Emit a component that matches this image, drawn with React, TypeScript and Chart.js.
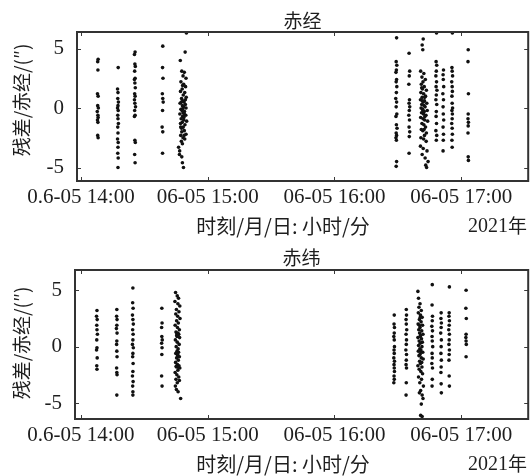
import React, { useEffect, useRef } from 'react';
import { Chart, registerables } from 'chart.js';

Chart.register(...registerables);

// x values: minutes after 06-05 14:00 (2021)
const xTickValues = [0, 60, 120, 180];
const xTickLabels = ['0.6-05 14:00', '06-05 15:00', '06-05 16:00', '06-05 17:00'];
const yTickValues = [-5, 0, 5];
const yTickLabels = ['-5', '0', '5'];
const panelTitles = ['赤经', '赤纬'];
const yAxisTitle = '残差/赤经/(″)';
const xAxisTitle = '时刻/月/日: 小时/分';
const yearLabel = '2021年';

type P = [number, number];

// ---- 赤经 (RA) residuals, [time, residual] ----
const ra1: P[] = [[8.1,4.1],[7.9,3.9],[8.0,3.2],[7.8,1.2],[8.1,1.0],[7.9,0.2],[8.2,0.0],[7.7,-0.3],[8.0,-0.6],[8.1,-0.8],[7.8,-1.0],[8.0,-1.2],[7.9,-2.3],[8.1,-2.5]];
const ra2: P[] = [[17.6,3.4],[17.3,1.6],[17.5,1.3],[17.4,0.8],[17.7,0.5],[17.5,0.2],[17.3,0.0],[17.6,-0.2],[17.4,-0.6],[17.5,-0.9],[17.7,-1.3],[17.4,-1.6],[17.5,-2.1],[17.3,-2.6],[17.6,-2.9],[17.5,-3.3],[17.4,-3.8],[17.6,-4.2],[17.5,-5.0]];
const ra3: P[] = [[25.6,4.7],[25.3,4.5],[25.5,3.7],[25.7,3.5],[25.4,3.1],[25.6,2.5],[25.3,2.4],[25.5,2.1],[25.7,1.7],[25.4,1.2],[25.6,1.0],[25.3,0.7],[25.5,0.4],[25.8,0.1],[25.4,-0.2],[25.6,-0.6],[25.3,-0.7],[25.5,-2.7],[25.7,-2.9],[25.4,-3.9],[25.6,-4.6]];
const ra4: P[] = [[38.7,5.2],[38.6,3.4],[38.8,2.5],[38.5,1.2],[38.7,0.8],[38.9,0.5],[38.6,-0.2],[38.4,-1.6],[38.7,-2.0],[38.6,-3.8]];
const ra5: P[] = [[49.9,6.3],[49.3,4.7],[47.0,4.0],[47.7,3.1],[48.9,3.0],[48.3,2.7],[49.7,2.5],[47.3,2.2],[48.6,2.0],[49.5,1.8],[47.9,1.6],[47.1,1.4],[49.1,1.3],[48.4,1.1],[49.8,0.9],[47.6,0.8],[48.2,0.6],[48.8,0.5],[46.9,0.4],[49.4,0.3],[48.0,0.2],[48.5,0.1],[49.7,0.0],[47.3,-0.1],[47.8,-0.2],[49.0,-0.3],[48.3,-0.4],[46.8,-0.5],[49.6,-0.6],[48.1,-0.7],[48.7,-0.8],[47.4,-0.9],[48.6,-1.0],[50.0,-1.1],[47.9,-1.2],[47.1,-1.3],[49.2,-1.4],[48.4,-1.6],[47.6,-1.7],[48.9,-1.9],[47.7,-2.0],[49.7,-2.2],[47.2,-2.3],[48.3,-2.5],[49.1,-2.6],[47.5,-2.8],[48.0,-3.0],[46.2,-3.3],[46.7,-3.6],[46.6,-3.9],[47.7,-4.1],[48.0,-4.6],[48.5,-5.0],[48.2,-0.05],[47.5,0.5],[48.9,-0.5],[48.1,1.9],[47.2,-1.6],[48.8,-2.3],[49.4,0.7]];
const ra6: P[] = [[149.4,5.9],[149.2,3.9],[149.5,3.6],[149.3,3.2],[149.1,3.0],[149.4,2.4],[149.2,2.2],[149.5,1.8],[149.3,1.3],[149.0,0.8],[149.4,0.5],[149.2,0.1],[149.5,-0.5],[149.1,-0.7],[149.3,-1.4],[149.6,-1.7],[149.2,-2.1],[149.4,-2.3],[149.1,-2.5],[149.3,-2.7],[149.4,-4.5],[149.2,-4.9]];
const ra7: P[] = [[155.3,4.6],[155.6,3.1],[155.4,2.7],[155.2,2.0],[155.5,0.7],[155.3,0.4],[155.6,0.1],[155.4,-0.2],[155.2,-0.6],[155.5,-1.0],[155.3,-1.6],[155.6,-2.0],[155.4,-2.4],[155.3,-3.8]];
const ra8: P[] = [[162.0,5.8],[161.5,5.3],[161.8,4.9],[160.8,3.1],[162.3,2.9],[161.4,2.6],[163.0,2.4],[161.9,2.2],[161.1,2.0],[162.5,1.8],[161.6,1.6],[163.5,1.5],[160.9,1.3],[162.2,1.2],[163.1,1.0],[161.5,0.9],[160.7,0.7],[162.6,0.6],[162.0,0.5],[163.7,0.4],[161.3,0.3],[162.4,0.2],[162.9,0.1],[161.0,0.0],[161.7,-0.1],[163.9,-0.2],[162.5,-0.3],[161.2,-0.4],[162.1,-0.5],[163.3,-0.6],[160.8,-0.8],[161.9,-0.9],[162.7,-1.0],[164.1,-1.1],[161.4,-1.3],[162.3,-1.4],[163.1,-1.6],[161.1,-1.8],[161.8,-1.9],[163.5,-2.1],[162.6,-2.3],[160.9,-2.5],[162.2,-2.6],[163.4,-2.8],[160.7,-3.2],[162.0,-3.4],[163.8,-3.6],[161.5,-3.9],[162.9,-4.2],[164.3,-4.5],[163.2,-4.8],[163.6,-5.0],[161.6,0.6],[162.8,-0.7],[161.3,1.7],[162.4,-1.8],[161.9,-0.2],[162.7,0.9]];
const ra9: P[] = [[168.3,6.3],[168.1,3.9],[168.4,3.6],[168.2,3.1],[168.0,2.7],[168.3,2.2],[168.1,1.8],[168.5,1.5],[168.2,1.1],[168.0,0.7],[168.4,0.3],[168.2,-0.3],[168.1,-0.7],[168.3,-1.3],[168.0,-1.9],[168.4,-2.3],[168.2,-2.7]];
const ra10: P[] = [[171.6,3.2],[171.4,2.8],[171.5,2.4],[171.7,1.8],[171.3,1.2],[171.6,0.7],[171.4,0.1],[171.5,-0.5],[171.7,-1.0],[171.4,-1.6],[171.6,-2.2],[171.5,-2.7],[171.4,-3.6]];
const ra11: P[] = [[175.8,6.3],[175.6,3.4],[175.7,3.1],[175.9,2.7],[175.5,2.2],[175.7,1.8],[175.8,1.4],[175.6,1.0],[175.7,0.4],[175.9,0.0],[175.6,-0.2],[175.8,-0.5],[175.7,-0.9],[175.5,-1.3],[175.7,-1.7],[175.8,-2.2],[175.6,-2.7],[175.7,-3.3]];
const ra12: P[] = [[183.3,4.9],[183.2,3.9],[183.4,1.2],[183.3,-0.5],[183.2,-0.9],[183.4,-1.2],[183.3,-1.5],[183.2,-2.1],[183.3,-4.1],[183.4,-4.4]];

// ---- 赤纬 (Dec) residuals, [time, residual] ----
const dec1: P[] = [[7.6,3.2],[7.4,2.7],[7.7,2.4],[7.5,1.9],[7.6,1.5],[7.8,1.1],[7.5,0.6],[7.6,-0.1],[7.4,-0.3],[7.7,-1.0],[7.5,-1.7],[7.6,-2.0]];
const dec2: P[] = [[17.0,3.3],[16.9,2.7],[17.1,2.4],[17.0,1.9],[16.8,1.6],[17.1,1.2],[17.0,0.5],[16.9,0.2],[17.0,-0.4],[17.1,-0.9],[16.9,-1.9],[17.0,-2.3],[17.1,-2.5],[17.0,-4.3]];
const dec3: P[] = [[24.6,5.2],[24.5,3.9],[24.7,3.4],[24.4,2.8],[24.6,2.4],[24.8,2.0],[24.5,1.5],[24.7,1.1],[24.6,0.6],[24.4,0.2],[24.8,-0.1],[24.6,-0.6],[24.5,-0.9],[24.7,-1.5],[24.6,-2.2],[24.4,-2.6],[24.7,-3.1],[24.5,-3.5],[24.6,-4.0],[24.6,-4.3]];
const dec4: P[] = [[38.3,3.4],[38.4,2.1],[38.2,1.7],[38.3,0.9],[38.5,0.6],[38.2,0.3],[38.4,-0.1],[38.3,-0.7],[38.2,-2.6],[38.4,-3.5]];
const dec5: P[] = [[44.8,4.8],[45.6,4.5],[46.2,4.3],[44.5,4.0],[45.9,3.8],[46.8,3.6],[45.2,3.3],[46.4,3.1],[44.9,2.9],[45.8,2.7],[46.9,2.5],[45.3,2.3],[46.1,2.1],[44.6,1.9],[45.7,1.7],[46.6,1.5],[45.0,1.3],[45.9,1.2],[46.3,1.1],[45.4,1.0],[46.7,0.8],[44.7,0.6],[45.6,0.4],[46.5,0.2],[45.1,0.0],[46.0,-0.2],[45.5,-0.4],[46.2,-0.5],[44.9,-0.6],[45.8,-0.8],[46.6,-0.9],[45.3,-1.0],[46.1,-1.2],[44.8,-1.4],[45.7,-1.6],[46.4,-1.7],[45.2,-1.8],[46.8,-1.9],[45.9,-2.1],[44.6,-2.3],[45.4,-2.5],[46.3,-2.7],[45.0,-2.9],[46.6,-3.0],[45.6,-3.2],[44.7,-3.5],[45.2,-3.8],[46.0,-4.0],[47.2,-4.6],[45.4,1.15],[46.0,1.05],[45.8,-0.7],[45.1,-1.75],[46.2,-1.85],[45.5,0.9]];
const dec6: P[] = [[148.3,2.8],[148.2,2.0],[148.4,1.7],[148.3,1.2],[148.1,0.9],[148.3,0.6],[148.4,0.0],[148.2,-0.3],[148.3,-0.6],[148.1,-1.0],[148.4,-1.3],[148.2,-1.6],[148.3,-1.9],[148.4,-2.2],[148.2,-2.6],[148.3,-2.9],[148.1,-3.2]];
const dec7: P[] = [[154.0,3.3],[154.1,2.8],[153.9,2.4],[154.0,2.0],[154.2,1.5],[153.9,1.1],[154.1,0.6],[154.0,0.2],[153.8,-0.3],[154.1,-0.7],[154.0,-1.2],[153.9,-1.6],[154.1,-1.9],[154.0,-3.2],[153.9,-4.3]];
const dec8: P[] = [[159.5,4.9],[159.8,4.3],[160.5,3.8],[160.0,3.5],[161.1,3.2],[159.7,3.0],[160.7,2.8],[161.5,2.6],[160.2,2.4],[161.0,2.2],[159.6,2.0],[161.7,1.9],[160.5,1.7],[159.9,1.5],[161.3,1.4],[160.3,1.2],[161.9,1.1],[160.8,1.0],[159.5,0.8],[161.2,0.7],[160.1,0.5],[161.6,0.4],[160.6,0.3],[159.8,0.1],[161.4,0.0],[160.4,-0.2],[160.9,-0.3],[159.7,-0.4],[161.8,-0.5],[160.5,-0.7],[160.0,-0.8],[161.1,-1.0],[162.0,-1.1],[160.3,-1.3],[160.7,-1.5],[159.5,-1.7],[161.4,-1.8],[160.1,-2.0],[160.9,-2.2],[161.7,-2.4],[159.8,-2.7],[161.2,-2.9],[160.4,-3.2],[162.1,-3.5],[160.8,-3.9],[161.5,-4.3],[160.2,-4.1],[161.9,-4.6],[161.1,-5.1],[160.8,-6.1],[161.5,-6.2],[160.6,0.9],[161.0,-0.5],[160.2,1.9],[161.3,-1.4],[160.6,2.6]];
const dec9: P[] = [[166.3,5.5],[166.2,3.7],[166.4,2.7],[166.3,2.3],[166.1,1.8],[166.4,1.4],[166.2,0.9],[166.3,0.5],[166.5,0.0],[166.2,-0.6],[166.3,-1.0],[166.1,-1.5],[166.4,-1.9],[166.3,-2.9],[166.2,-3.5]];
const dec10: P[] = [[170.5,3.0],[170.4,2.5],[170.6,2.1],[170.5,1.7],[170.3,1.2],[170.6,0.6],[170.5,0.0],[170.4,-0.6],[170.6,-1.2],[170.5,-1.8],[170.4,-2.3],[170.5,-3.3],[170.6,-4.1]];
const dec11: P[] = [[174.4,5.3],[174.3,3.0],[174.2,2.7],[174.4,2.3],[174.3,1.9],[174.1,1.5],[174.4,1.1],[174.3,0.6],[174.2,0.2],[174.4,-0.3],[174.3,-0.7],[174.2,-1.2],[174.3,-2.6],[174.4,-3.5]];
const dec12: P[] = [[182.3,5.0],[182.2,3.4],[182.4,2.5],[182.3,1.1],[182.2,0.8],[182.3,0.5],[182.4,0.2],[182.3,-0.9]];

const raGroups = [ra1, ra2, ra3, ra4, ra5, ra6, ra7, ra8, ra9, ra10, ra11, ra12];
const decGroups = [dec1, dec2, dec3, dec4, dec5, dec6, dec7, dec8, dec9, dec10, dec11, dec12];

const SERIF = "'Liberation Serif', 'DejaVu Serif', serif";
const CJK = "'Noto Sans CJK SC', 'Noto Sans CJK JP', sans-serif";
const INK = '#1e1e1e';

type Panel = {
  title: string;
  groups: P[][];
  xMin: number;
  xMax: number;
  yMin: number;
  yMax: number;
  left: number;
  titleY: number;
  yTitleY: number;
};

const panels: Panel[] = [
  { title: panelTitles[0], groups: raGroups, xMin: -1.9, xMax: 211.7, yMin: -6.13, yMax: 6.39, left: 77, titleY: 21, yTitleY: 100 },
  { title: panelTitles[1], groups: decGroups, xMin: -2.8, xMax: 211.7, yMin: -6.42, yMax: 6.8, left: 75, titleY: 20, yTitleY: 105 },
];

const framePlugin = {
  id: 'frame',
  afterDraw(chart: any, _args: any, opts: any) {
    const { ctx, chartArea: a, scales } = chart;
    ctx.save();
    ctx.strokeStyle = '#3a3a3a';
    ctx.lineWidth = 1;
    for (const v of xTickValues) {
      const x = Math.round(scales.x.getPixelForValue(v)) + 0.5;
      if (x < a.left + 2 || x > a.right - 2) continue;
      ctx.beginPath();
      ctx.moveTo(x, a.bottom); ctx.lineTo(x, a.bottom - 4);
      ctx.moveTo(x, a.top); ctx.lineTo(x, a.top + 4);
      ctx.stroke();
    }
    for (const v of yTickValues) {
      const y = Math.round(scales.y.getPixelForValue(v)) + 0.5;
      ctx.beginPath();
      ctx.moveTo(a.left, y); ctx.lineTo(a.left + 4, y);
      ctx.moveTo(a.right, y); ctx.lineTo(a.right - 4, y);
      ctx.stroke();
    }
    ctx.lineWidth = 2;
    ctx.strokeStyle = '#333';
    ctx.strokeRect(a.left, a.top, a.right - a.left, a.bottom - a.top);

    ctx.fillStyle = INK;
    ctx.textBaseline = 'middle';
    ctx.textAlign = 'center';
    ctx.font = `19px ${CJK}`;
    ctx.fillText(opts.title, (a.left + a.right) / 2, opts.titleY);
    ctx.font = `20px ${CJK}`;
    ctx.fillText(xAxisTitle, 283, 226);
    ctx.textAlign = 'left';
    ctx.font = `20px ${SERIF}`;
    const yr = yearLabel.slice(0, 4);
    ctx.fillText(yr, 468, 227);
    const w = ctx.measureText(yr).width;
    ctx.font = `19px ${CJK}`;
    ctx.fillText(yearLabel.slice(4), 468 + w, 226);
    ctx.translate(22, opts.yTitleY);
    ctx.rotate(-Math.PI / 2);
    ctx.textAlign = 'center';
    ctx.font = `19px ${CJK}`;
    ctx.fillText(yAxisTitle, 0, 0);
    ctx.restore();
  },
};

function PanelChart({ p }: { p: Panel }) {
  const ref = useRef<HTMLCanvasElement | null>(null);
  useEffect(() => {
    if (!ref.current) return;
    const data = p.groups.flat().map(([x, y]) => ({ x, y }));
    const chart = new Chart(ref.current, {
      type: 'scatter',
      data: {
        datasets: [
          {
            data,
            pointRadius: 1.8,
            pointHoverRadius: 1.8,
            pointBackgroundColor: '#111',
            pointBorderWidth: 0,
            showLine: false,
          },
        ],
      },
      options: {
        responsive: false,
        animation: false,
        events: [],
        layout: { padding: { top: 32, right: 1, left: 0, bottom: 0 } },
        plugins: {
          legend: { display: false },
          tooltip: { enabled: false },
          title: { display: false },
          frame: { title: p.title, titleY: p.titleY, yTitleY: p.yTitleY },
        } as any,
        scales: {
          x: {
            type: 'linear',
            min: p.xMin,
            max: p.xMax,
            grid: { display: false, drawTicks: false },
            border: { display: false },
            afterBuildTicks: (s: any) => {
              s.ticks = xTickValues.map((v) => ({ value: v }));
            },
            afterFit: (s: any) => {
              s.height = 57;
            },
            ticks: {
              autoSkip: false,
              maxRotation: 0,
              padding: 4,
              color: INK,
              font: { family: SERIF, size: 21 },
              callback: (_v: any, i: number) => xTickLabels[i],
            },
          },
          y: {
            type: 'linear',
            min: p.yMin,
            max: p.yMax,
            grid: { display: false, drawTicks: false },
            border: { display: false },
            afterBuildTicks: (s: any) => {
              s.ticks = yTickValues.map((v) => ({ value: v }));
            },
            afterFit: (s: any) => {
              s.width = p.left;
            },
            ticks: {
              padding: 13,
              color: INK,
              font: { family: SERIF, size: 21 },
              callback: (_v: any, i: number) => yTickLabels[i],
            },
          },
        },
      },
      plugins: [framePlugin],
    });
    return () => chart.destroy();
  }, [p]);
  return <canvas ref={ref} width={530} height={238} style={{ display: 'block', width: 530, height: 238 }} />;
}

export default function App() {
  return (
    <div style={{ position: 'absolute', left: 0, top: 0, width: 530, height: 476, background: '#fff' }}>
      {panels.map((p, i) => (
        <PanelChart key={i} p={p} />
      ))}
    </div>
  );
}
